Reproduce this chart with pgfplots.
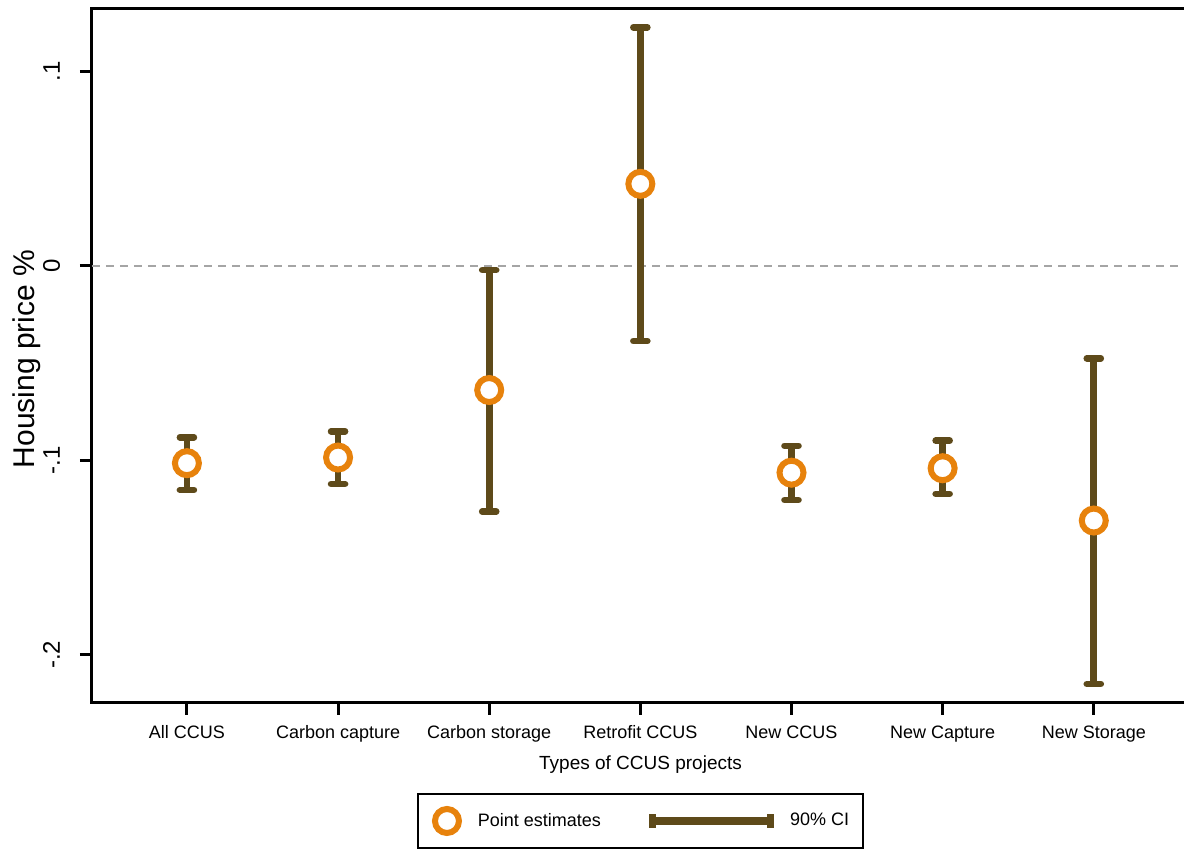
\documentclass[border=0pt]{standalone}
\usepackage{pgfplots}
\pgfplotsset{compat=1.18}
\usepackage{fontspec}
\setmainfont{Liberation Sans}
\definecolor{ptorange}{RGB}{231,130,12}
\definecolor{cibrown}{RGB}{94,74,26}
\definecolor{zerogray}{RGB}{165,165,165}
\begin{document}
\begin{tikzpicture}
\begin{axis}[
  scale only axis,
  width=548.5pt, height=347pt,
  xmin=-0.628, xmax=6.63,
  ymin=-0.2247, ymax=0.1321,
  axis line style={line width=1.5pt, black},
  tick style={line width=1.5pt, black},
  tick align=outside,
  major tick length=6pt,
  xtick pos=left, ytick pos=left,
  xtick={0,1,2,3,4,5,6},
  xticklabels={All CCUS, Carbon capture, Carbon storage, Retrofit CCUS, New CCUS, New Capture, New Storage},
  ytick={-0.2,-0.1,0,0.1},
  yticklabels={-.2,-.1,0,.1},
  /pgf/number format/assume math mode=true,
  xticklabel style={font=\fontsize{9}{10}\selectfont, anchor=base, inner sep=0pt},
  xticklabel shift=12pt,
  yticklabel style={font=\fontsize{12}{13}\selectfont, rotate=90, anchor=base, inner sep=0pt},
  yticklabel shift=10pt,
  xlabel={Types of CCUS projects},
  ylabel={Housing price \%},
  every axis x label/.style={at={(axis description cs:0.5,0)}, anchor=base, yshift=-33.5pt, inner sep=0pt, font=\fontsize{9.5}{11}\selectfont},
  every axis y label/.style={at={(axis description cs:-0.0525,0.4957)}, rotate=90, anchor=base, inner sep=0pt, font=\fontsize{15}{17}\selectfont},
  legend style={at={(axis description cs:0.5,0)}, anchor=north, yshift=-45pt,
    draw=black, line width=1pt, inner xsep=7pt, inner ysep=6pt,
    font=\fontsize{9}{10}\selectfont,
    /tikz/every odd column/.append style={column sep=8pt},
    /tikz/every even column/.append style={column sep=24pt},
    nodes={inner sep=0pt}},
  legend columns=2,
  legend cell align=left,
  clip=false,
]
% zero line
\addplot[zerogray, line width=1.2pt, dash pattern=on 4pt off 3pt, forget plot] coordinates {(-0.628,0) (6.63,0)};
% 90% CIs
\pgfplotsset{cistyle/.style={cibrown, line width=3.3pt, mark=-, mark size=3.5pt, mark options={line cap=round, solid}, forget plot}}
\addplot[cistyle] coordinates {(0,-0.1152) (0,-0.0881)};
\addplot[cistyle] coordinates {(1,-0.1121) (1,-0.0850)};
\addplot[cistyle] coordinates {(2,-0.1263) (2,-0.0021)};
\addplot[cistyle] coordinates {(3,-0.0386) (3,0.1227)};
\addplot[cistyle] coordinates {(4,-0.1203) (4,-0.0925)};
\addplot[cistyle] coordinates {(5,-0.1172) (5,-0.0898)};
\addplot[cistyle] coordinates {(6,-0.2149) (6,-0.0475)};
% point estimates
\addplot[only marks, mark=*, mark size=6pt, mark options={draw=ptorange, fill=white, line width=3pt}, forget plot] coordinates {
  (0,-0.1014) (1,-0.0985) (2,-0.0638) (3,0.0422) (4,-0.1063) (5,-0.1040) (6,-0.1309)};
\addlegendimage{legend image code/.code={
  \draw[draw=ptorange, fill=white, line width=3pt] (7.5pt,0pt) circle (6pt);
  \path[draw=none, fill=none] (0pt,-7.5pt) rectangle (15pt,7.5pt);}}
\addlegendentry{Point estimates}
\addlegendimage{legend image code/.code={
  \fill[cibrown, draw=none] (0pt,-1.9pt) rectangle (62.5pt,1.9pt);
  \fill[cibrown, draw=none] (0pt,-3.5pt) rectangle (3.5pt,3.5pt);
  \fill[cibrown, draw=none] (59pt,-3.5pt) rectangle (62.5pt,3.5pt);}}
\addlegendentry{90\% CI}
\end{axis}
\pgfresetboundingbox
\path[use as bounding box] (-46pt,-73.5pt) rectangle (546pt,351.5pt);
\end{tikzpicture}
\end{document}
